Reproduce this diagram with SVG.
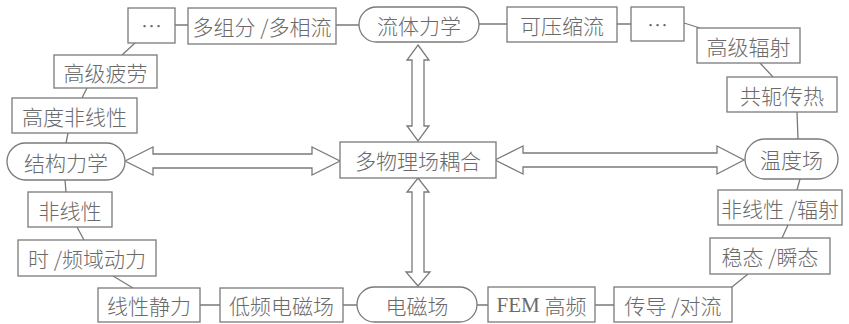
<svg xmlns="http://www.w3.org/2000/svg" width="849" height="324" viewBox="0 0 849 324">
<style>
.b{fill:#fff;stroke:#7a7a7a;stroke-width:1.3}
.c{fill:none;stroke:#7a7a7a;stroke-width:1.3}
.a{fill:#fff;stroke:#7a7a7a;stroke-width:1.3;stroke-linejoin:miter}
.t{font-family:"Noto Sans CJK SC","Noto Sans",sans-serif;font-size:21px;font-weight:300;fill:#6a6a6a;text-anchor:middle;dominant-baseline:central}
.l{font-family:"Liberation Serif",serif;font-weight:400}
</style>
<rect width="849" height="324" fill="#fff"/>
<g id="connectors">
<path class="c" d="M175,25H188M336,25H359M479,24H507M617,24H631M684,23L700,28M760,63L773,77M797,112L798,139M800,179L797,190M788,225L782,238M748,274L732,287M595,305H614M477,305H488M343,305H357M200,305H220M113,276L133,288M77,227L84,240M65,180L66,192M68,133L66,143M87,88L82,98M135,43L122,55"/>
<polygon class="a" points="418,45 429,60 424,60 424,126 429,126 418,141 407,126 412,126 412,60 407,60"/>
<polygon class="a" points="418,178 429,192 424,192 424,272 430,272 418,286 406,272 412,272 412,192 407,192"/>
<polygon class="a" points="125,161 153,147 153,154 312,154 312,147 340,161 312,175 312,168 153,168 153,175"/>
<polygon class="a" points="495,160 523,146 523,153 717,153 717,146 744,160 717,174 717,167 523,167 523,174"/>
</g>
<g id="n-center"><rect class="b" x="340" y="142" width="156" height="36"/><text class="t" x="418" y="160">多物理场耦合</text></g>
<g id="n-dots1"><rect class="b" x="128" y="8" width="47" height="35"/><text class="t" x="151.5" y="25">…</text></g>
<g id="n-multi"><rect class="b" x="188" y="8" width="148" height="36"/><text class="t" x="262" y="26">多组分 /多相流</text></g>
<g id="n-fluid"><rect class="b" x="359" y="7" width="120" height="35" rx="17.5"/><text class="t" x="419" y="24.5">流体力学</text></g>
<g id="n-compress"><rect class="b" x="507" y="7" width="110" height="35"/><text class="t" x="562" y="24.5">可压缩流</text></g>
<g id="n-dots2"><rect class="b" x="631" y="7" width="53" height="34"/><text class="t" x="657.5" y="24">…</text></g>
<g id="n-advrad"><rect class="b" x="697" y="28" width="103" height="35"/><text class="t" x="748.5" y="45.5">高级辐射</text></g>
<g id="n-conj"><rect class="b" x="727" y="77" width="110" height="35"/><text class="t" x="782" y="94.5">共轭传热</text></g>
<g id="n-temp"><rect class="b" x="745" y="139" width="93" height="40" rx="20"/><text class="t" x="791.5" y="159">温度场</text></g>
<g id="n-nlrad"><rect class="b" x="718" y="190" width="124" height="35"/><text class="t" x="780" y="207.5">非线性 /辐射</text></g>
<g id="n-steady"><rect class="b" x="710" y="238" width="120" height="36"/><text class="t" x="770" y="256">稳态 /瞬态</text></g>
<g id="n-conduct"><rect class="b" x="614" y="287" width="118" height="35"/><text class="t" x="673" y="304.5">传导 /对流</text></g>
<g id="n-fem"><rect class="b" x="488" y="287" width="107" height="35"/><text class="t" x="541.5" y="304.5"><tspan class="l">FEM</tspan> 高频</text></g>
<g id="n-em"><rect class="b" x="357" y="287" width="120" height="35" rx="17.5"/><text class="t" x="417" y="304.5">电磁场</text></g>
<g id="n-lowfreq"><rect class="b" x="220" y="288" width="123" height="34"/><text class="t" x="281.5" y="305">低频电磁场</text></g>
<g id="n-linear"><rect class="b" x="98" y="288" width="102" height="34"/><text class="t" x="149" y="305">线性静力</text></g>
<g id="n-timefreq"><rect class="b" x="18" y="240" width="138" height="36"/><text class="t" x="87" y="258">时 /频域动力</text></g>
<g id="n-nonlin"><rect class="b" x="28" y="192" width="84" height="35"/><text class="t" x="70" y="209.5">非线性</text></g>
<g id="n-struct"><rect class="b" x="7" y="143" width="118" height="37" rx="18.5"/><text class="t" x="66" y="161.5">结构力学</text></g>
<g id="n-highnl"><rect class="b" x="12" y="98" width="125" height="35"/><text class="t" x="74.5" y="115.5">高度非线性</text></g>
<g id="n-fatigue"><rect class="b" x="54" y="55" width="103" height="33"/><text class="t" x="105.5" y="71.5">高级疲劳</text></g>
</svg>
